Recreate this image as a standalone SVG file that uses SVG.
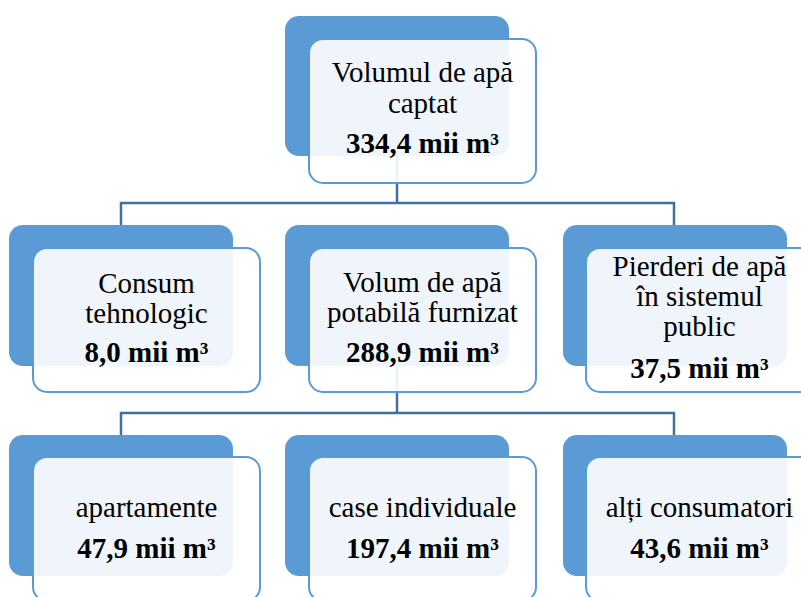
<svg xmlns="http://www.w3.org/2000/svg" width="801" height="597" viewBox="0 0 801 597">
<style>
.back{fill:#5B9BD5;}
.front{fill:#FFFFFF;fill-opacity:0.9;stroke:#5B9BD5;stroke-width:2;}
.conn{fill:none;stroke:#41719C;stroke-width:2.5;}
.t{font-size:29px;fill:#000000;text-anchor:middle;}
.b{font-weight:bold;}
</style>
<rect width="801" height="597" fill="#FFFFFF"/>
<g id="connectors">
<path class="conn" d="M397,156 V203 M121,225 V203 H674 V225"/>
<path class="conn" d="M397,366 V413 M121,435 V413 H674 V435"/>
</g>
<g font-family="'Liberation Serif', Tinos, 'Times New Roman', 'DejaVu Serif', serif">
<g id="n-captat">
<rect class="back" x="285" y="16" width="224" height="140" rx="14"/>
<rect class="front" x="309" y="39" width="227" height="144" rx="14"/>
<text class="t" x="422.5" y="82">Volumul de apă</text>
<text class="t" x="422.5" y="113">captat</text>
<text class="t b" x="422.5" y="153">334,4 mii m³</text>
</g>
<g id="n-tehnologic">
<rect class="back" x="9" y="225" width="224" height="141" rx="14"/>
<rect class="front" x="33" y="248" width="227" height="144" rx="14"/>
<text class="t" x="146.5" y="293">Consum</text>
<text class="t" x="146.5" y="323">tehnologic</text>
<text class="t b" x="146.5" y="362">8,0 mii m³</text>
</g>
<g id="n-potabila">
<rect class="back" x="285" y="225" width="224" height="141" rx="14"/>
<rect class="front" x="309" y="248" width="227" height="144" rx="14"/>
<text class="t" x="422.5" y="292">Volum de apă</text>
<text class="t" x="422.5" y="322">potabilă furnizat</text>
<text class="t b" x="422.5" y="362">288,9 mii m³</text>
</g>
<g id="n-pierderi">
<rect class="back" x="563" y="225" width="224" height="141" rx="14"/>
<rect class="front" x="586" y="248" width="227" height="144" rx="14"/>
<text class="t" x="699.5" y="276">Pierderi de apă</text>
<text class="t" x="699.5" y="306">în sistemul</text>
<text class="t" x="699.5" y="336">public</text>
<text class="t b" x="699.5" y="378">37,5 mii m³</text>
</g>
<g id="n-apartamente">
<rect class="back" x="9" y="435" width="224" height="141" rx="14"/>
<rect class="front" x="33" y="457" width="227" height="144" rx="14"/>
<text class="t" x="146.5" y="517">apartamente</text>
<text class="t b" x="146.5" y="558">47,9 mii m³</text>
</g>
<g id="n-case">
<rect class="back" x="285" y="435" width="224" height="141" rx="14"/>
<rect class="front" x="309" y="457" width="227" height="144" rx="14"/>
<text class="t" x="422.5" y="517">case individuale</text>
<text class="t b" x="422.5" y="558">197,4 mii m³</text>
</g>
<g id="n-alti">
<rect class="back" x="563" y="435" width="224" height="141" rx="14"/>
<rect class="front" x="586" y="457" width="227" height="144" rx="14"/>
<text class="t" x="699.5" y="517">alți consumatori</text>
<text class="t b" x="699.5" y="558">43,6 mii m³</text>
</g>
</g>
</svg>
